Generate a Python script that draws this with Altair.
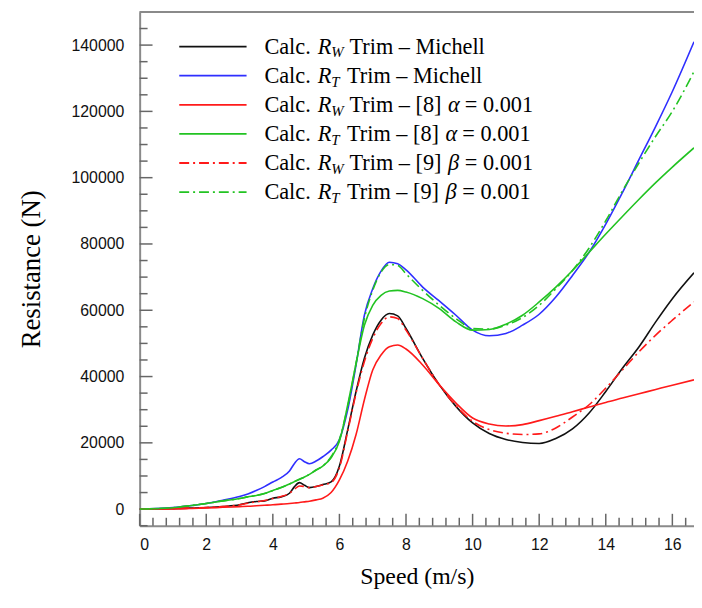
import altair as alt
import pandas as pd

# ---------------- data ----------------
speed = [0, 0.5, 1, 1.5, 2, 2.5, 3, 3.25, 3.5, 3.75, 4, 4.25, 4.5, 4.65, 4.8, 4.95,
         5.1, 5.3, 5.5, 5.75, 6, 6.25, 6.5, 6.75, 7, 7.25, 7.5, 7.75, 8, 8.5, 9, 9.5,
         10, 10.5, 11, 11.5, 12, 12.5, 13, 13.5, 14, 14.5, 15, 15.5, 16, 16.65]

rw_michell = [0, 50, 150, 300, 500, 800, 1300, 1900, 2300, 2500, 3300, 3700, 4800, 6800,
              8000, 7200, 6500, 6800, 7400, 8200, 13000, 24000, 35500, 45500, 52500, 57000,
              59000, 58300, 54500, 45500, 37500, 31000, 26000, 22800, 21000, 20100, 19800,
              21300, 24200, 29000, 35500, 42500, 49000, 56500, 63500, 71300]

rt_michell = [0, 150, 450, 1000, 1700, 2700, 3800, 4600, 5600, 6800, 8200, 9500, 11500,
              13800, 15200, 14300, 13700, 14500, 15800, 17800, 21000, 30000, 43500, 58500,
              66500, 71800, 74500, 74000, 72200, 67000, 62800, 58500, 54000, 52300, 53000,
              55500, 58800, 64000, 70500, 77500, 86000, 95500, 105500, 115500, 126000, 141000]

rw_ref8 = [0, 30, 80, 180, 320, 550, 750, 850, 1000, 1150, 1300, 1500, 1700, 1850, 2000,
           2200, 2400, 2800, 3300, 5000, 8800, 14500, 22500, 33000, 42000, 46500, 49000,
           49500, 48300, 43500, 37500, 32000, 27500, 25700, 25100, 25500, 26700, 28000,
           29400, 30800, 32200, 33500, 34800, 36100, 37400, 39000]

rt_ref8 = [0, 150, 420, 1000, 1700, 2500, 3200, 3700, 4100, 4700, 5600, 6500, 7600, 8300,
           9000, 9700, 10500, 11800, 13000, 15500, 20500, 31500, 44000, 55500, 61500, 64500,
           65800, 66000, 65500, 63500, 60500, 56500, 54000, 54200, 55800, 58500, 62500,
           67000, 72000, 77500, 83000, 88300, 93500, 98500, 103200, 109000]

rw_ref9 = [0, 50, 150, 300, 500, 800, 1300, 1800, 2200, 2600, 3200, 3800, 4800, 6000, 7000,
           6800, 6500, 6800, 7300, 8000, 12500, 23500, 35000, 44500, 51500, 56000, 58000,
           57500, 54000, 45500, 37500, 31200, 26500, 24000, 22900, 22500, 22700, 24500,
           27800, 31500, 36500, 42000, 47500, 52500, 57000, 62500]

rt_ref9 = [0, 150, 420, 1000, 1700, 2500, 3200, 3700, 4100, 4700, 5600, 6500, 7600, 8300,
           9000, 9700, 10500, 11800, 13000, 15800, 21000, 31000, 44000, 57500, 66000, 71500,
           73800, 73500, 71000, 66000, 61500, 57500, 54500, 54300, 55500, 57800, 61500,
           66500, 72000, 78800, 87000, 96000, 104500, 112500, 120000, 132000]

x_tick_labels = [0, 2, 4, 6, 8, 10, 12, 14, 16]
y_tick_labels = [0, 20000, 40000, 60000, 80000, 100000, 120000, 140000]

# legend text pieces
legend_sub = ["W", "T", "W", "T", "W", "T"]
legend_mid = ["Trim \u2013 Michell", "Trim \u2013 Michell", "Trim \u2013 [8]",
              "Trim \u2013 [8]", "Trim \u2013 [9]", "Trim \u2013 [9]"]
legend_greek = ["", "", "\u03b1", "\u03b1", "\u03b2", "\u03b2"]
legend_tail = ["", "", "= 0.001", "= 0.001", "= 0.001", "= 0.001"]

# ---------------- styles ----------------
series = [
    (rw_michell, "#111111", None),
    (rt_michell, "#2f2fff", None),
    (rw_ref8, "#ff1a1a", None),
    (rt_ref8, "#22c322", None),
    (rw_ref9, "#ff1a1a", [10, 4, 2, 4]),
    (rt_ref9, "#22c322", [10, 4, 2, 4]),
]

W, H = 560, 519
X_MAX = 16.65
xs = alt.Scale(domain=[0, X_MAX], nice=False, zero=False)
ys = alt.Scale(domain=[-5000, 150000], nice=False, zero=False)
AXIS_COL = "#8a8a8a"

xaxis = alt.Axis(values=x_tick_labels, tickSize=0, grid=False, domainColor=AXIS_COL,
                 domainWidth=2, labelFont="Liberation Sans", labelFontSize=16,
                 labelColor="#111111", labelPadding=11, title="Speed (m/s)",
                 titleFont="Liberation Serif", titleFontSize=24, titleFontWeight="normal",
                 titleColor="#000000", titlePadding=12)
yaxis = alt.Axis(values=y_tick_labels, format="d", tickSize=0, grid=False,
                 domainColor=AXIS_COL, domainWidth=2, labelFont="Liberation Sans",
                 labelFontSize=16, labelColor="#111111", labelPadding=16,
                 title="Resistance (N)", titleFont="Liberation Serif", titleFontSize=27,
                 titleFontWeight="normal", titleColor="#000000", titlePadding=26)

X = lambda: alt.X("speed:Q", scale=xs, axis=xaxis)
Y = lambda: alt.Y("res:Q", scale=ys, axis=yaxis)

layers = []

# tick marks (inward)
xt = pd.DataFrame({"speed": [round(i * 0.4, 2) for i in range(42)]})
xt["len"] = [12 if i % 5 == 0 else 8 for i in range(42)]
for L in (8, 12):
    layers.append(
        alt.Chart(xt[xt["len"] == L]).mark_rule(color="#666666", strokeWidth=1.5).encode(
            x=X(), y=alt.value(H), y2=alt.value(H - L))
    )
yvals = list(range(-5000, 150001, 5000))
yt = pd.DataFrame({"res": yvals})
yt["len"] = [13 if v % 20000 == 0 else 8 for v in yvals]
for L in (8, 13):
    layers.append(
        alt.Chart(yt[yt["len"] == L]).mark_rule(color="#666666", strokeWidth=1.5).encode(
            y=Y(), x=alt.value(0), x2=alt.value(L))
    )

# top frame line
layers.append(
    alt.Chart(pd.DataFrame({"a": [0]})).mark_rule(color=AXIS_COL, strokeWidth=2).encode(
        x=alt.value(0), x2=alt.value(W), y=alt.value(0))
)

# curves
for vals, col, dash in series:
    df = pd.DataFrame({"speed": speed, "res": vals})
    kw = dict(color=col, strokeWidth=1.6, interpolate="monotone", clip=True)
    if dash:
        kw["strokeDash"] = dash
    layers.append(alt.Chart(df).mark_line(**kw).encode(x=X(), y=Y()))

# legend
ROW0, STEP = 35.0, 29.4
for i, (vals, col, dash) in enumerate(series):
    ry = ROW0 + i * STEP
    kw = dict(color=col, strokeWidth=1.8)
    if dash:
        kw["strokeDash"] = dash
    layers.append(
        alt.Chart(pd.DataFrame({"a": [0]})).mark_rule(**kw).encode(
            x=alt.value(40), x2=alt.value(108), y=alt.value(ry))
    )
    sub = legend_sub[i]
    mid_x = 212 if sub == "W" else 209.5
    pieces = [("Calc.", 126, 22.5, "normal", 0), ("R", 180, 22.5, "italic", 0),
              (sub, 193.5, 15, "italic", 6), (legend_mid[i], mid_x, 22.5, "normal", 0)]
    if legend_greek[i]:
        g_x = mid_x + 99.5
        pieces.append((legend_greek[i], g_x, 22.5, "italic", 0))
        pieces.append((legend_tail[i], g_x + 17, 22.5, "normal", 0))
    for txt, px, fs, style, dy in pieces:
        layers.append(
            alt.Chart(pd.DataFrame({"t": [txt]})).mark_text(
                align="left", baseline="middle", font="Liberation Serif", fontSize=fs,
                fontStyle=style, color="#000000").encode(
                text="t:N", x=alt.value(px), y=alt.value(ry + dy))
        )

chart = alt.layer(*layers).properties(
    width=W, height=H,
    padding={"left": 133, "top": 1, "right": 0, "bottom": 66},
    autosize=alt.AutoSizeParams(type="none"),
    background="white",
).configure_view(stroke=None)

chart.save("out.html", embed_options={"renderer": "svg", "actions": False})
